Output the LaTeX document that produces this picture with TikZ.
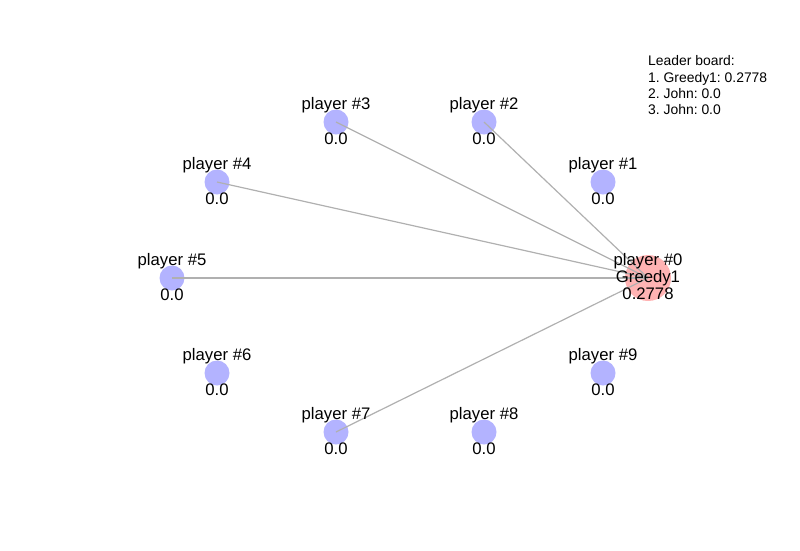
\documentclass[tikz,border=0pt]{standalone}
\usepackage{fontspec}
\setmainfont{Liberation Sans}
\frenchspacing
\definecolor{pblue}{RGB}{179,179,255}
\definecolor{pred}{RGB}{255,179,179}
\definecolor{edgegray}{RGB}{176,176,176}
\begin{document}
\begin{tikzpicture}[x=1pt,y=-1pt,
  player/.style={circle,fill=pblue,draw=none,minimum size=25pt,inner sep=0pt},
  leader/.style={circle,fill=pred,draw=none,minimum size=46pt,inner sep=0pt},
  lbl/.style={anchor=base,inner sep=0pt,font=\fontsize{16.7}{18}\selectfont},
  board/.style={anchor=base west,inner sep=0pt,font=\fontsize{13.9}{16}\selectfont},
  edge/.style={draw=edgegray,line width=1.2pt}]
\useasboundingbox (0,0) rectangle (800,550);
\node[leader] (p0) at (648,278) {};
\node[player] (p1) at (603,182) {};
\node[player] (p2) at (484,122) {};
\node[player] (p3) at (336,122) {};
\node[player] (p4) at (217,182) {};
\node[player] (p5) at (172,278) {};
\node[player] (p6) at (217,373) {};
\node[player] (p7) at (336,432) {};
\node[player] (p8) at (484,432) {};
\node[player] (p9) at (603,373) {};
\foreach \t in {p2,p3,p4,p5,p7} \draw[edge] (p0.center) -- (\t.center);
\foreach \n/\k in {p1/1,p2/2,p3/3,p4/4,p5/5,p6/6,p7/7,p8/8,p9/9}{
  \node[lbl] (\n t) at ([yshift=13pt]\n.center) {player \#\k};
  \node[lbl] (\n s) at ([yshift=-22.5pt]\n.center) {0.0};
}
\node[lbl] (p0t) at ([yshift=13pt]p0.center) {player \#0};
\node[lbl] (p0n) at ([yshift=-4.5pt]p0.center) {Greedy1};
\node[lbl] (p0s) at ([yshift=-21.5pt]p0.center) {0.2778};
\node[board] (b0) at (648,65.7) {Leader board:};
\node[board] (b1) at (648,82) {1. Greedy1: 0.2778};
\node[board] (b2) at (648,98.4) {2. John: 0.0};
\node[board] (b3) at (648,114.8) {3. John: 0.0};
\end{tikzpicture}
\end{document}
